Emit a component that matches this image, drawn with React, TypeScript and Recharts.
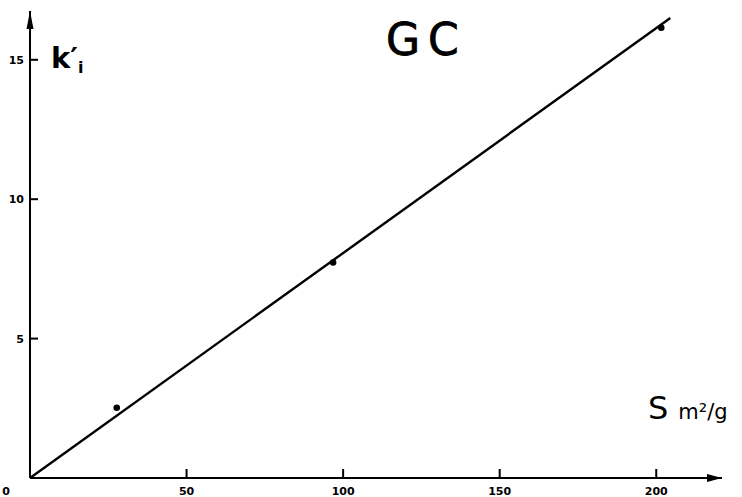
import React from "react";
import { ComposedChart, XAxis, YAxis, Line, Scatter } from "recharts";

const xTicks = [0, 50, 100, 150, 200];
const yTicks = [5, 10, 15];
const fitLine = [
  { x: 0, y: 0 },
  { x: 204.5, y: 16.5 },
];
const measured = [
  { x: 27.7, y: 2.52 },
  { x: 96.8, y: 7.73 },
  { x: 201.6, y: 16.15 },
];
const xArrow = [{ x: 221, y: 0 }];
const yArrow = [{ x: 0, y: 16.75 }];

const xTickMarks = [{ x: 50, y: 0 }, { x: 100, y: 0 }, { x: 150, y: 0 }, { x: 200, y: 0 }];
const yTickMarks = [{ x: 0, y: 5 }, { x: 0, y: 10 }, { x: 0, y: 15 }];

const FONT = "'DejaVu Sans', sans-serif";

const XTick = (props: any) => {
  const { x, y, payload } = props;
  const v = payload.value;
  return (
    <text x={v === 0 ? x - 24 : x} y={y + 17} textAnchor="middle" fontSize={11} fontWeight="bold" fontFamily={FONT} fill="#000">
      {v}
    </text>
  );
};

const YTick = (props: any) => {
  const { x, y, payload } = props;
  return (
    <text x={x - 6} y={y + 4} textAnchor="end" fontSize={11} fontWeight="bold" fontFamily={FONT} fill="#000">
      {payload.value}
    </text>
  );
};

const RightArrow = (props: any) => {
  const { cx, cy } = props;
  return <polygon points={`${cx},${cy} ${cx - 15},${cy - 4} ${cx - 15},${cy + 4}`} fill="#000" stroke="none" />;
};
const UpArrow = (props: any) => {
  const { cx, cy } = props;
  return <polygon points={`${cx},${cy} ${cx - 3.5},${cy + 18} ${cx + 3.5},${cy + 18}`} fill="#000" stroke="none" />;
};
const Dot = (props: any) => {
  const { cx, cy } = props;
  return <circle cx={cx} cy={cy} r={3.3} fill="#000" />;
};
const XMark = (props: any) => {
  const { cx, cy } = props;
  return <rect x={cx - 1} y={cy - 9} width={2} height={9} fill="#000" stroke="none" />;
};
const YMark = (props: any) => {
  const { cx, cy } = props;
  return <rect x={cx} y={cy - 1} width={8} height={2} fill="#000" stroke="none" />;
};

export default function App() {
  return (
    <div style={{ position: "absolute", left: 0, top: 0, width: 742, height: 497, background: "#fff" }}>
      <ComposedChart width={742} height={497} margin={{ top: 11, right: 20, bottom: 18, left: 29 }}>
        <XAxis
          dataKey="x"
          type="number"
          domain={[0, 221]}
          ticks={xTicks}
          interval={0}
          height={1}
          tickSize={0}
          tickMargin={0}
          tickLine={false}
          axisLine={{ stroke: "#000", strokeWidth: 2 }}
          tick={<XTick />}
        />
        <YAxis
          dataKey="y"
          type="number"
          domain={[0, 16.75]}
          ticks={yTicks}
          interval={0}
          width={1}
          tickSize={0}
          tickMargin={0}
          tickLine={false}
          axisLine={{ stroke: "#000", strokeWidth: 2 }}
          tick={<YTick />}
        />
        <Line data={fitLine} dataKey="y" stroke="#000" strokeWidth={2.4} dot={false} isAnimationActive={false} />
        <Scatter data={measured} dataKey="y" shape={<Dot />} isAnimationActive={false} />
        <Scatter data={xTickMarks} dataKey="y" shape={<XMark />} isAnimationActive={false} />
        <Scatter data={yTickMarks} dataKey="y" shape={<YMark />} isAnimationActive={false} />
        <Scatter data={xArrow} dataKey="y" shape={<RightArrow />} isAnimationActive={false} />
        <Scatter data={yArrow} dataKey="y" shape={<UpArrow />} isAnimationActive={false} />
      </ComposedChart>
      <div style={{ position: "absolute", left: 386, top: 18, fontFamily: FONT, fontSize: 44, letterSpacing: 8, color: "#000", lineHeight: 1, WebkitTextStroke: "0.8px #000" }}>
        GC
      </div>
      <div style={{ position: "absolute", left: 51, top: 44, fontFamily: FONT, fontSize: 29, fontWeight: "bold", color: "#000", lineHeight: 1 }}>
        k′<span style={{ fontSize: 16, verticalAlign: -5 }}>i</span>
      </div>
      <div style={{ position: "absolute", left: 648, top: 392, fontFamily: FONT, fontSize: 32, color: "#000", lineHeight: 1 }}>
        S
        <span style={{ fontSize: 21, marginLeft: 10 }}>m²/g</span>
      </div>
    </div>
  );
}
